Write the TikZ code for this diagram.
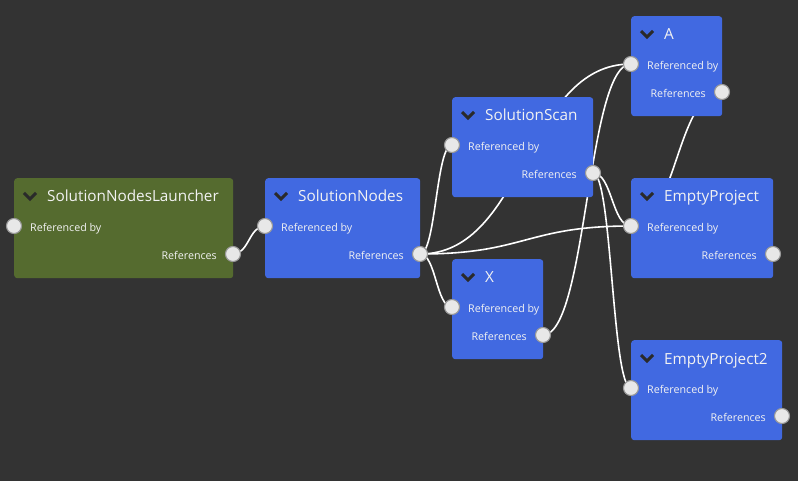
\documentclass[tikz,border=0pt]{standalone}
\usepackage{fontspec}
\setmainfont{Open Sans}
\usetikzlibrary{backgrounds,calc}
\definecolor{bg}{HTML}{333333}
\definecolor{nodeblue}{HTML}{4169E1}
\definecolor{nodegreen}{HTML}{556B2F}
\definecolor{portfill}{HTML}{E8E8E8}
\definecolor{portdraw}{HTML}{9A9A9A}
\definecolor{chevcol}{HTML}{2A2A2A}
\definecolor{txt}{HTML}{F2F2F2}
\tikzset{
  boxnode/.style={rounded corners=3pt, inner sep=0pt, anchor=north west, draw=none},
  port/.style={circle, fill=portfill, draw=portdraw, line width=1.1pt, minimum size=15pt, inner sep=0pt},
  titletext/.style={anchor=base west, inner sep=0pt, text=txt, font=\fontsize{15.3}{18}\selectfont},
  rowtext/.style={inner sep=0pt, text=txt, font=\fontsize{10.7}{13}\selectfont},
  chev/.style={draw=chevcol, line width=3pt},
  link/.style={draw=white, line width=1.6pt},
  bez/.style={to path={let \p1=(\tikztostart), \p2=(\tikztotarget) in
     .. controls ({(\x1+\x2)/2},\y1) and ({(\x1+\x2)/2},\y2) .. (\tikztotarget)}}
}
% #1 name, #2 left, #3 top, #4 right, #5 colour, #6 title
\newcommand{\graphbox}[6]{%
  \node[boxnode, fill=#5, minimum width={#4-#2}, minimum height=100pt] (#1) at (#2,#3) {};
  \draw[chev] ({#2+10},{#3+15}) -- ({#2+16},{#3+21}) -- ({#2+22},{#3+15});
  \node[titletext] (#1-title) at ({#2+33},{#3+24}) {#6};
  \node[rowtext, anchor=base west] (#1-refby) at ({#2+16},{#3+53.3}) {Referenced by};
  \node[rowtext, anchor=base east] (#1-refs) at ({#4-16},{#3+81.3}) {References};
  \node[port] (#1-in) at (#2,{#3+48}) {};
  \node[port] (#1-out) at (#4,{#3+76}) {};
}
\begin{document}
\begin{tikzpicture}[x=1pt,y=-1pt]
\begin{scope}[on background layer]
  \fill[bg] (0,0) rectangle (798,481);
\end{scope}
\useasboundingbox (0,0) rectangle (798,481);

\graphbox{L}{14}{178}{233}{nodegreen}{SolutionNodesLauncher}
\graphbox{SN}{265}{178}{420}{nodeblue}{SolutionNodes}
\graphbox{SS}{452}{97}{593}{nodeblue}{SolutionScan}
\graphbox{X}{452}{259}{543}{nodeblue}{X}
\graphbox{A}{631}{16}{722}{nodeblue}{A}
\graphbox{EP}{631}{178}{773}{nodeblue}{EmptyProject}
\graphbox{EPB}{631}{340}{782}{nodeblue}{EmptyProject2}

\begin{scope}[on background layer]
  \draw[link] (L-out.center) to[bez] (SN-in.center);
  \draw[link] (SN-out.center) to[bez] (SS-in.center);
  \draw[link] (SN-out.center) to[bez] (X-in.center);
  \draw[link] (SN-out.center) to[bez] (EP-in.center);
  \draw[link] (SN-out.center) to[bez] (A-in.center);
  \draw[link] (SS-out.center) to[bez] (EP-in.center);
  \draw[link] (SS-out.center) to[bez] (EPB-in.center);
  \draw[link] (X-out.center) to[bez] (A-in.center);
  \draw[link] (A-out.center) to[bez] (EP-in.center);
\end{scope}
\end{tikzpicture}
\end{document}
